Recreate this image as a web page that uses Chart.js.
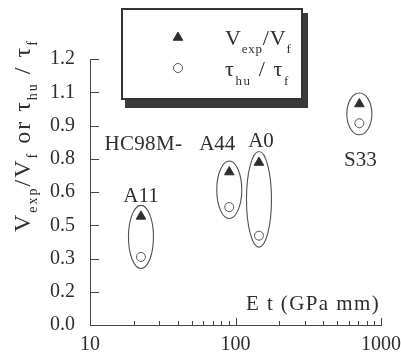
<!DOCTYPE html>
<html><head><meta charset="utf-8">
<script src="https://cdn.jsdelivr.net/npm/chart.js@4/dist/chart.umd.min.js"></script>
<style>html,body{margin:0;padding:0;background:#fff;}</style>
</head><body>
<canvas id="c" width="401" height="359"></canvas>
<script>
// ---- data ----
const groups = ['A11', 'A44', 'A0', 'S33'];
const etValues = [22.4, 90.6, 145, 710];          // E t (GPa mm)
const vRatio = [0.49, 0.69, 0.733, 0.997];        // Vexp / Vf
const tauRatio = [0.307, 0.532, 0.403, 0.91];     // tau_hu / tau_f
const xTickValues = [10, 100, 1000];
const xTickLabels = ['10', '100', '1000'];
const xMinorTicks = [20, 30, 40, 50, 60, 70, 80, 90, 200, 300, 400, 500, 600, 700, 800, 900];
const yTickValues = [0, 0.15, 0.3, 0.45, 0.6, 0.75, 0.9, 1.05, 1.2];
const yTickLabels = ['0.0', '0.2', '0.3', '0.5', '0.6', '0.8', '0.9', '1.1', '1.2'];
const prefixLabel = 'HC98M-';
const xTitle = 'E t (GPa mm)';
const legendRows = [
  [{t: 'V'}, {t: 'exp', sub: true}, {t: '/V'}, {t: 'f', sub: true}],
  [{t: 'τ'}, {t: 'hu', sub: true}, {t: ' / '}, {t: 'τ'}, {t: 'f', sub: true}]
];
const yTitle = [{t: 'V'}, {t: 'exp', sub: true}, {t: '/V'}, {t: 'f', sub: true}, {t: ' or '},
  {t: 'τ'}, {t: 'hu', sub: true}, {t: ' / '}, {t: 'τ'}, {t: 'f', sub: true}];

// ---- style ----
const FONT = '"Liberation Serif", "Times New Roman", serif';
const TXT = '#2e2e2e';
const LINE = '#444';
const labelPlacement = [ // pixel offsets of group label (center, baseline) from a point
  {ref: 0, dx: 0, dy: -14},
  {ref: 0, dx: -12, dy: -22},
  {ref: 0, dx: 2, dy: -16},
  {ref: 1, dx: 1, dy: 43}
];

function drawRich(ctx, segs, x, y, mainSize, subSize, subDrop, spacing) {
  let cx = x;
  ctx.letterSpacing = spacing + 'px';
  for (const s of segs) {
    ctx.font = (s.sub ? subSize : mainSize) + 'px ' + FONT;
    ctx.fillText(s.t, cx, y + (s.sub ? subDrop : 0));
    cx += ctx.measureText(s.t).width;
  }
  ctx.letterSpacing = '0px';
  return cx;
}

const decor = {
  id: 'decor',
  beforeDatasetsDraw(chart) {
    const ctx = chart.ctx;
    const m0 = chart.getDatasetMeta(0).data, m1 = chart.getDatasetMeta(1).data;
    ctx.save();
    ctx.strokeStyle = '#505050';
    ctx.lineWidth = 1.1;
    for (let i = 0; i < m0.length; i++) {
      const cx = (m0[i].x + m1[i].x) / 2;
      const top = Math.min(m0[i].y, m1[i].y) - 11;
      const bot = Math.max(m0[i].y, m1[i].y) + 11.5;
      ctx.beginPath();
      ctx.ellipse(cx, (top + bot) / 2, 12.5, (bot - top) / 2, 0, 0, Math.PI * 2);
      ctx.stroke();
    }
    ctx.restore();
  },
  afterDraw(chart) {
    const ctx = chart.ctx;
    const xs = chart.scales.x, ys = chart.scales.y;
    const ca = chart.chartArea;
    ctx.save();
    // inward tick marks
    ctx.strokeStyle = LINE;
    ctx.lineWidth = 1;
    ctx.beginPath();
    yTickValues.forEach(v => {
      const y = Math.round(ys.getPixelForValue(v)) + 0.5;
      ctx.moveTo(ca.left, y); ctx.lineTo(ca.left + 9, y);
    });
    xTickValues.forEach(v => {
      const x = Math.round(xs.getPixelForValue(v)) + 0.5;
      ctx.moveTo(x, ca.bottom); ctx.lineTo(x, ca.bottom - 7);
    });
    xMinorTicks.forEach(v => {
      const x = Math.round(xs.getPixelForValue(v)) + 0.5;
      ctx.moveTo(x, ca.bottom); ctx.lineTo(x, ca.bottom - 4);
    });
    ctx.stroke();

    // group labels
    ctx.fillStyle = TXT;
    ctx.textBaseline = 'alphabetic';
    ctx.textAlign = 'center';
    ctx.font = '21px ' + FONT;
    const m = [chart.getDatasetMeta(0).data, chart.getDatasetMeta(1).data];
    let a44Left = 0, a44Base = 0;
    groups.forEach((g, i) => {
      const lp = labelPlacement[i];
      const p = m[lp.ref][i];
      const x = p.x + lp.dx, y = p.y + lp.dy;
      ctx.fillText(g, x, y);
      if (i === 1) { a44Left = x - ctx.measureText(g).width / 2; a44Base = y; }
    });
    ctx.textAlign = 'right';
    ctx.letterSpacing = '0.3px';
    ctx.fillText(prefixLabel, a44Left - 17, a44Base);
    ctx.letterSpacing = '0px';

    // x axis title
    ctx.textAlign = 'left';
    ctx.font = '21px ' + FONT;
    ctx.letterSpacing = '1.4px';
    ctx.fillText(xTitle, ca.right - 135, ca.bottom - 15);
    ctx.letterSpacing = '0px';

    // y axis title (rotated)
    ctx.save();
    ctx.translate(30, 232);
    ctx.rotate(-Math.PI / 2);
    drawRich(ctx, yTitle, 0, 0, 24, 14, 7, 2);
    ctx.restore();

    // legend box with shadow
    ctx.fillStyle = '#3a3a3a';
    ctx.fillRect(125, 13, 183, 95);
    ctx.fillStyle = '#fff';
    ctx.fillRect(121, 8, 181, 91);
    ctx.strokeStyle = '#333';
    ctx.lineWidth = 2;
    ctx.strokeRect(122, 9, 180, 90);
    // legend symbols
    const d0 = chart.data.datasets[0], d1 = chart.data.datasets[1];
    ctx.save();
    ctx.fillStyle = d0.backgroundColor; ctx.strokeStyle = d0.borderColor; ctx.lineWidth = 1;
    Chart.helpers.drawPoint(ctx, {pointStyle: 'triangle', radius: d0.pointRadius, borderWidth: 1}, 178, 37.5);
    ctx.fillStyle = d1.backgroundColor; ctx.strokeStyle = d1.borderColor; ctx.lineWidth = 1;
    Chart.helpers.drawPoint(ctx, {pointStyle: 'circle', radius: d1.pointRadius, borderWidth: 1}, 178, 68);
    ctx.restore();
    // legend texts
    ctx.fillStyle = TXT;
    ctx.textAlign = 'left';
    drawRich(ctx, legendRows[0], 225, 45, 22, 13, 8, 0.8);
    drawRich(ctx, legendRows[1], 225, 76, 22, 13, 9, 1.6);
    ctx.restore();
  }
};

new Chart(document.getElementById('c'), {
  type: 'scatter',
  data: {
    datasets: [
      {label: 'Vexp/Vf', data: etValues.map((x, i) => ({x: x, y: vRatio[i]})),
        pointStyle: 'triangle', pointRadius: 5.5, backgroundColor: '#2e2e2e', borderColor: '#2e2e2e', borderWidth: 1},
      {label: 'τhu/τf', data: etValues.map((x, i) => ({x: x, y: tauRatio[i]})),
        pointStyle: 'circle', pointRadius: 4.5, backgroundColor: '#fff', borderColor: '#555', borderWidth: 1}
    ]
  },
  options: {
    responsive: false, animation: false, devicePixelRatio: 1, events: [],
    layout: {padding: {top: 59, right: 20, left: 0, bottom: 0}},
    plugins: {legend: {display: false}, tooltip: {enabled: false}},
    scales: {
      x: {
        type: 'logarithmic', min: 10, max: 1000,
        grid: {display: false}, border: {display: true, color: LINE, width: 1},
        afterBuildTicks: s => { s.ticks = xTickValues.map(v => ({value: v})); },
        afterFit: s => { s.height = 34; s.paddingLeft = 0; s.paddingRight = 0; },
        ticks: {autoSkip: false, maxRotation: 0, minRotation: 0, padding: 0, color: TXT,
          font: {family: FONT, size: 20}, callback: (v, i) => xTickLabels[i]}
      },
      y: {
        min: 0, max: 1.2,
        grid: {display: false}, border: {display: true, color: LINE, width: 1},
        afterBuildTicks: s => { s.ticks = yTickValues.map(v => ({value: v})); },
        afterFit: s => { s.width = 90; s.paddingTop = 0; s.paddingBottom = 0; },
        ticks: {autoSkip: false, padding: 7, color: TXT,
          font: {family: FONT, size: 20}, callback: (v, i) => yTickLabels[i]}
      }
    }
  },
  plugins: [decor]
});
</script>
</body></html>
